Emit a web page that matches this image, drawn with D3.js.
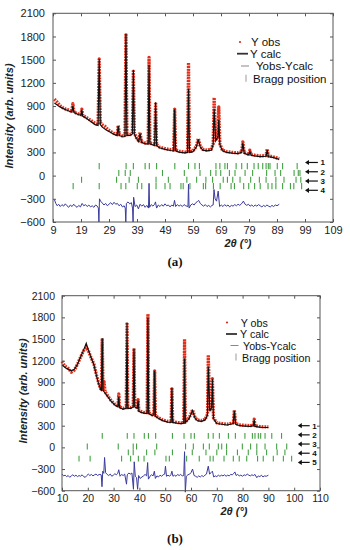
<!DOCTYPE html>
<html>
<head>
<meta charset="utf-8">
<script src="https://cdn.jsdelivr.net/npm/d3@7/dist/d3.min.js"></script>
<style>
  body { margin: 0; background: #fff; }
  svg { display: block; }
</style>
</head>
<body>
<div id="chart"></div>
<script>
const width = 350;
const height = 550;

const yTicks = [-600, -300, 0, 300, 600, 900, 1200, 1500, 1800, 2100];
const xTicksA = [9, 19, 29, 39, 49, 59, 69, 79, 89, 99, 109];
const xTicksB = [10, 20, 30, 40, 50, 60, 70, 80, 90, 100, 110];
const legendLabels = ["Y obs", "Y calc", "Yobs-Ycalc", "Bragg position"];

// ---- panel (a) ----
const calcA = [[9.5,940],[11,900],[12.5,870],[14,845],[15.7,820],[16.1,900],[16.5,815],[18,790],[19,780],[19.3,850],[19.6,770],
  [21,740],[22.5,700],[24,660],[25.1,650],[25.5,1510],[25.9,660],[26.5,630],[28,590],[29.5,560],[31,530],[31.9,520],[32.3,640],
  [32.7,520],[34,500],[34.7,510],[35.05,1840],[35.4,520],[36.5,520],[37.35,540],[37.7,1370],[38.05,540],[38.8,480],[39.6,440],
  [40.1,540],[40.6,430],[42,410],[43,410],[43.3,1430],[43.6,410],[45.3,390],[45.65,950],[46,390],[47,360],[49,340],[51,325],
  [52.1,320],[52.45,860],[52.8,320],[54,305],[56,295],[57.05,300],[57.4,1125],[57.75,300],[59,310],[60.2,370],[60.9,470],
  [61.6,370],[62.5,330],[64,320],[65.5,330],[66.2,400],[66.55,865],[67.1,450],[67.9,500],[68.2,720],[68.6,400],[69.5,320],
  [71,300],[73,290],[75,285],[76.4,300],[76.8,425],[77.3,290],[79,265],[79.3,320],[79.7,265],[81,255],[83,245],[85.1,250],
  [85.5,335],[85.9,245],[87.5,235],[89.8,210]];
const obsA = [[9.5,990],[10.5,950],[11.5,905],[12.5,880],[13.5,860],[14.5,850],[15.7,830],[16.1,930],[16.5,820],[18,800],[19,790],
  [19.3,860],[19.6,780],[21,750],[22.5,715],[24,680],[25.1,660],[25.5,1510],[25.9,690],[26.5,660],[27.5,640],[28.5,600],
  [29.5,575],[31,540],[31.9,530],[32.3,650],[32.7,530],[34,510],[34.7,520],[35.05,1840],[35.4,530],[36.5,530],[37.35,550],
  [37.7,1370],[38.05,550],[38.8,490],[39.6,450],[40.1,560],[40.6,440],[42,420],[43,420],[43.3,1530],[43.6,420],[45.3,400],
  [45.65,950],[46,400],[47,370],[49,350],[51,335],[52.1,330],[52.45,860],[52.8,330],[54,315],[56,305],[57.05,310],[57.4,1460],
  [57.75,310],[59,320],[60.2,380],[60.9,480],[61.6,380],[62.5,340],[64,330],[65.5,340],[66.2,410],[66.55,1010],[67.1,460],
  [67.9,510],[68.2,890],[68.6,410],[69.5,330],[71,310],[73,300],[75,295],[76.4,310],[76.8,435],[77.3,300],[79,275],[79.3,330],
  [79.7,275],[81,265],[83,255],[85.1,260],[85.5,345],[85.9,255],[87.5,245],[89.8,220]];
const diffA = [[9.5,-310],[10,-360],[10.5,-390],[11,-370],[11.6,-400],[12.2,-375],[12.8,-395],[13.4,-365],[14,-390],[14.6,-410],
  [15.2,-380],[15.8,-400],[16.4,-370],[17,-395],[17.6,-410],[18.2,-385],[18.8,-405],[19.4,-360],[20,-390],[20.6,-375],[21.2,-400],
  [21.8,-380],[22.4,-405],[23,-390],[23.6,-410],[24.2,-380],[24.8,-395],[25.2,-420],[25.4,-600],[25.6,-300],[26,-330],[26.6,-355],
  [27.2,-380],[27.8,-360],[28.4,-390],[29,-370],[29.6,-350],[30.2,-375],[30.8,-345],[31.4,-370],[32,-360],[32.6,-390],[33.2,-370],
  [33.8,-405],[34.4,-390],[34.8,-420],[35,-600],[35.2,-360],[35.8,-340],[36.4,-365],[37,-350],[37.4,-420],[37.6,-600],[37.8,-280],
  [38.3,-400],[38.9,-380],[39.5,-430],[40.1,-370],[40.7,-395],[41.3,-375],[41.9,-410],[42.5,-385],[43.1,-420],[43.3,-100],
  [43.5,-410],[44.1,-375],[44.7,-395],[45.3,-370],[45.6,-340],[46,-420],[46.6,-380],[47.2,-400],[47.8,-375],[48.4,-395],[49,-365],
  [49.6,-390],[50.2,-380],[50.8,-405],[51.4,-380],[52,-395],[52.4,-320],[52.8,-400],[53.4,-375],[54,-395],[54.6,-380],[55.2,-400],
  [55.8,-375],[56.4,-390],[57.2,-400],[57.4,-110],[57.6,-420],[58.2,-380],[58.8,-365],[59.4,-380],[60,-350],[60.6,-335],[61,-320],
  [61.6,-360],[62.2,-380],[62.8,-395],[63.4,-375],[64,-400],[64.6,-385],[65.2,-405],[65.8,-385],[66.2,-380],[66.5,-180],[66.9,-300],
  [67.4,-330],[68,-200],[68.5,-400],[69.1,-380],[69.7,-400],[70.3,-375],[70.9,-395],[71.5,-380],[72.1,-405],[72.7,-385],[73.3,-395],
  [73.9,-375],[74.5,-390],[75.1,-370],[75.7,-385],[76.3,-365],[77,-330],[77.6,-370],[78.2,-385],[78.8,-370],[79.4,-395],[80,-380],
  [80.6,-400],[81.2,-380],[81.8,-395],[82.4,-375],[83,-390],[83.6,-405],[84.2,-385],[84.8,-400],[85.4,-380],[86,-395],[86.6,-405],
  [87.2,-385],[87.8,-400],[88.4,-380],[89,-390],[89.8,-370]];
const braggRowsA = [124, 34, -53, -135];
const braggA = [
  [25.5,35.1,37.7,41.9,43.4,46.0,52.5,57.4,59.7,61.3,67.2,68.6,70.4,71.3,74.4,76.4,78.4,80.8,82.3,83.9,85.1,85.9,86.5,89.1,91.0,96.2],
  [32.5,34.8,36.6,48.1,55.9,61.5,65.3,67.2,68.9,72.0,74.0,77.6,80.3,85.3,88.3,90.3,95.1,96.6,97.2],
  [19.2,31.7,36.2,39.5,45.8,50.2,56.8,60.3,63.6,66.0,69.8,71.3,73.2,75.8,79.6,82.7,85.1,88.6,91.5,95.8,97.5],
  [16.2,25.5,33.3,35.0,39.1,40.7,45.8,49.0,50.8,54.7,55.5,57.9,62.7,63.5,66.3,68.7,72.6,73.8,77.1,78.9,81.0,83.0,85.8,87.2,88.6,91.0,93.8,95.0,97.8]
];
const arrowRowsA = [170, 50, -70, -190];
const arrowLabelsA = ["1", "2", "3", "4"];

// ---- panel (b) ----
const calcB = [[10,1140],[11.5,1100],[12.5,1080],[13.6,1060],[14.8,1080],[16,1150],[17.2,1250],[18.4,1350],[19.4,1440],[20.2,1350],
  [21.2,1250],[22.4,1140],[23.3,1000],[24.2,880],[25,800],[25.3,790],[25.6,1510],[25.9,790],[26.5,760],[27.8,700],[29,640],
  [30.4,590],[31.7,560],[32,700],[32.3,550],[33.6,530],[34.9,540],[35.2,1730],[35.5,540],[36.6,540],[37.6,560],[37.9,1370],
  [38.2,560],[39.2,540],[39.5,650],[39.8,500],[41,480],[42.2,470],[43,470],[43.3,1790],[43.6,470],[45,440],[45.6,450],[45.9,1060],
  [46.2,430],[47.5,400],[49,370],[51,350],[52.3,345],[52.6,830],[52.9,345],[54.5,335],[56,330],[57.2,335],[57.5,1230],[57.8,340],
  [59.3,400],[60.6,510],[61.6,400],[62.5,370],[64,360],[65.5,380],[66.4,450],[66.7,1120],[67.3,500],[68,550],[68.3,950],[68.7,400],
  [70,330],[72,320],[74,310],[76.4,330],[76.8,505],[77.3,320],[79,300],[81,295],[83,290],[84.2,300],[84.5,380],[84.8,290],
  [86.5,280],[88,275],[90,275]];
const obsB = [[10,1190],[11,1130],[12.5,1090],[13.6,1040],[14.8,1070],[16,1150],[17.2,1250],[18.4,1340],[19.4,1380],[20.2,1340],
  [21.2,1250],[22.4,1150],[23.3,1010],[24.2,890],[25,810],[25.3,800],[25.6,1510],[25.9,800],[26.3,910],[26.7,770],[27.8,710],
  [29,650],[30.4,600],[31.7,570],[32,740],[32.3,560],[33.6,540],[34.9,550],[35.2,1730],[35.5,550],[36.6,550],[37.6,570],[37.9,1370],
  [38.2,570],[39.2,550],[39.5,660],[39.8,510],[41,490],[42.2,480],[43,480],[43.3,1846],[43.6,480],[45,450],[45.6,460],[45.9,1060],
  [46.2,440],[47.5,410],[49,380],[51,360],[52.3,355],[52.6,830],[52.9,355],[54.5,345],[56,340],[57.2,345],[57.5,1500],[57.8,350],
  [59.3,410],[60.6,520],[61.6,410],[62.5,380],[64,370],[65.5,390],[66.4,460],[66.7,1280],[67.3,510],[68,560],[68.3,950],[68.7,410],
  [70,340],[72,330],[74,320],[76.4,340],[76.8,515],[77.3,330],[79,310],[81,305],[83,300],[84.2,310],[84.5,390],[84.8,300],
  [86.5,290],[88,285],[90,285]];
const diffB = [[10,-370],[10.6,-395],[11.2,-385],[11.8,-405],[12.4,-390],[13,-415],[13.6,-395],[14.2,-380],[14.8,-400],[15.4,-385],
  [16,-405],[16.6,-390],[17.2,-400],[17.8,-380],[18.4,-405],[19,-415],[19.6,-390],[20.2,-370],[20.8,-390],[21.4,-375],[22,-395],
  [22.6,-380],[23.2,-370],[23.8,-390],[24.4,-375],[25.2,-380],[25.5,-545],[25.8,-330],[26.2,-360],[26.5,-140],[26.9,-350],
  [27.5,-375],[28.1,-390],[28.7,-370],[29.3,-400],[29.9,-385],[30.5,-365],[31.1,-380],[31.6,-360],[32,-310],[32.5,-400],[33.1,-375],
  [33.7,-390],[34.3,-370],[35,-510],[35.3,-380],[35.9,-355],[36.5,-370],[37.1,-355],[37.7,-580],[38,-200],[38.4,-400],[38.9,-420],
  [39.3,-580],[39.7,-390],[40.3,-430],[41,-410],[41.6,-395],[42.2,-375],[42.8,-395],[43.2,-210],[43.5,-440],[44.1,-400],[44.7,-380],
  [45.3,-395],[45.8,-330],[46.2,-430],[46.8,-395],[47.4,-410],[48,-385],[48.6,-400],[49.2,-380],[49.8,-370],[50.1,-260],[50.5,-400],
  [51.1,-385],[51.7,-400],[52.2,-380],[52.6,-330],[53,-400],[53.6,-385],[54.2,-400],[54.8,-375],[55.4,-390],[56,-375],[56.6,-395],
  [57.2,-390],[57.5,-60],[57.8,-620],[58.2,-400],[58.8,-380],[59.5,-370],[60,-350],[60.6,-300],[61.2,-390],[61.8,-400],[62.4,-415],
  [63,-395],[63.6,-410],[64.2,-390],[64.8,-405],[65.4,-385],[66,-370],[66.7,-260],[67.2,-370],[67.8,-350],[68.3,-330],[68.8,-410],
  [69.4,-395],[70,-405],[70.6,-385],[71.2,-400],[71.8,-385],[72.4,-395],[73,-380],[73.6,-400],[74.2,-385],[74.8,-395],[75.4,-375],
  [76,-380],[76.6,-360],[77,-340],[77.5,-390],[78.1,-375],[78.7,-395],[79.3,-385],[80,-400],[80.6,-380],[81.2,-390],[81.8,-370],
  [82.4,-385],[83,-395],[83.6,-380],[84.2,-390],[84.8,-375],[85.5,-420],[86.1,-395],[86.7,-405],[87.3,-385],[87.9,-410],[88.5,-395],
  [89.2,-400],[90,-385]];
const braggRowsB = [160, 12, -70, -156];
const braggB = [
  [25.6,35.3,37.9,41.9,43.5,46.3,52.8,57.3,60.0,61.3,66.7,68.6,71.0,74.5,77.2,80.9,83.8,84.8,86.1,87.0,88.7,91.3,95.1],
  [19.8,31.8,37.6,38.9,46.7,57.9,60.9,64.8,67.1,70.6,71.9,73.8,79.9,83.1,85.5,88.7,93.2,97.1],
  [35.7,37.6,42.8,46.0,52.8,60.5,65.8,70.0,73.8,78.0,82.2,85.5,89.3,93.4,96.4],
  [16.6,20.9,33.1,36.6,39.6,41.8,50.3,51.6,58.3,63.2,67.4,68.6,72.8,76.4,78.7,81.6,85.8,88.0,91.9,95.8,99.0]
];
const arrowRowsB = [300, 173, 46, -81, -208];
const arrowLabelsB = ["1", "2", "3", "4", "5"];

const svg = d3.select('#chart').append('svg')
    .attr('width', width)
    .attr('height', height);

const font = "'Liberation Sans', Arial, sans-serif";

function drawPanel(p) {
    const x = d3.scaleLinear().domain(p.xDomain).range([p.left, p.right]);
    const y = d3.scaleLinear().domain([-600, 2100]).range([p.bottom, p.top]);
    const line = d3.line().x(d => x(d[0])).y(d => y(d[1]));
    const g = svg.append('g');

    // observed points (red dotted band)
    g.append('path')
        .datum(p.obs)
        .attr('d', line)
        .attr('fill', 'none')
        .attr('stroke', '#e0301c')
        .attr('stroke-width', 3.3)
        .attr('stroke-dasharray', '1.8,1')
        .attr('stroke-linejoin', 'round');

    // calculated
    g.append('path')
        .datum(p.calc)
        .attr('d', line)
        .attr('fill', 'none')
        .attr('stroke', '#111')
        .attr('stroke-width', 1.2);

    // difference
    g.append('path')
        .datum(p.diff)
        .attr('d', line)
        .attr('fill', 'none')
        .attr('stroke', '#3a3a9c')
        .attr('stroke-width', 1);

    // bragg positions
    p.bragg.forEach((row, i) => {
        g.selectAll(null)
            .data(row)
            .join('line')
            .attr('x1', d => x(d)).attr('x2', d => x(d))
            .attr('y1', y(p.braggRows[i] + 40)).attr('y2', y(p.braggRows[i] - 40))
            .attr('stroke', '#44a044')
            .attr('stroke-width', 1.1);
    });

    // arrows with phase numbers
    const ar = g.selectAll('g.arrow')
        .data(p.arrowRows)
        .join('g');
    ar.append('line')
        .attr('x1', x(p.arrowX[0]) + 2).attr('x2', x(p.arrowX[1]))
        .attr('y1', d => y(d)).attr('y2', d => y(d))
        .attr('stroke', '#111').attr('stroke-width', 1.2);
    ar.append('path')
        .attr('d', d => `M${x(p.arrowX[0])},${y(d)}l4,-2.6v5.2z`)
        .attr('fill', '#111');
    ar.append('text')
        .attr('x', x(p.arrowX[1]) + 2.5)
        .attr('y', d => y(d) + 3)
        .attr('font-family', font)
        .attr('font-weight', 'bold')
        .attr('font-size', 8)
        .attr('fill', '#111')
        .text((d, i) => p.arrowLabels[i]);

    // axes, ticks inward
    const left = g.append('g')
        .attr('transform', `translate(${p.left},0)`)
        .call(d3.axisLeft(y).tickValues(yTicks).tickSize(-3).tickPadding(p.yPad).tickFormat(d3.format('d')));
    const bottom = g.append('g')
        .attr('transform', `translate(0,${p.bottom})`)
        .call(d3.axisBottom(x).tickValues(p.xTicks).tickSize(-3).tickPadding(4).tickFormat(d3.format('d')));
    g.append('g')
        .attr('transform', `translate(${p.right},0)`)
        .call(d3.axisRight(y).tickValues(yTicks).tickSize(-3).tickFormat(''));
    g.append('g')
        .attr('transform', `translate(0,${p.top})`)
        .call(d3.axisTop(x).tickValues(p.xTicks).tickSize(-3).tickFormat(''));
    g.selectAll('.domain').remove();
    g.selectAll('.tick line').attr('stroke', '#555');
    [left, bottom].forEach(a => a.selectAll('text')
        .attr('font-family', font)
        .attr('font-size', p.tickFont)
        .attr('fill', '#222'));

    g.append('rect')
        .attr('x', p.left).attr('y', p.top)
        .attr('width', p.right - p.left).attr('height', p.bottom - p.top)
        .attr('fill', 'none')
        .attr('stroke', '#555')
        .attr('stroke-width', 1);

    // axis titles
    g.append('text')
        .attr('transform', `translate(${p.yLabel[0]},${p.yLabel[1]}) rotate(-90)`)
        .attr('text-anchor', 'middle')
        .attr('font-family', font)
        .attr('font-weight', 'bold')
        .attr('font-style', 'italic')
        .attr('font-size', 11)
        .attr('fill', '#222')
        .text('Intensity (arb. units)');
    g.append('text')
        .attr('x', p.xLabel[0]).attr('y', p.xLabel[1])
        .attr('text-anchor', 'middle')
        .attr('font-family', font)
        .attr('font-weight', 'bold')
        .attr('font-style', 'italic')
        .attr('font-size', 11)
        .attr('fill', '#222')
        .text('2θ (°)');
    g.append('text')
        .attr('x', 175).attr('y', p.caption[1])
        .attr('text-anchor', 'middle')
        .attr('font-family', "'Liberation Serif', 'Times New Roman', serif")
        .attr('font-weight', 'bold')
        .attr('font-size', 13)
        .attr('fill', '#111')
        .text(p.caption[0]);

    // legend
    const L = p.legend;
    const lg = g.append('g');
    lg.append('circle').attr('cx', L.mx[0]).attr('cy', L.rows[0] - 4).attr('r', 1.1).attr('fill', '#d0301c');
    lg.append('line').attr('x1', L.mx[1] - 6).attr('x2', L.mx[1] + 5)
        .attr('y1', L.rows[1] - 4).attr('y2', L.rows[1] - 4).attr('stroke', '#333').attr('stroke-width', 1.8);
    lg.append('line').attr('x1', L.mx[2] - 4).attr('x2', L.mx[2] + 4)
        .attr('y1', L.rows[2] - 4).attr('y2', L.rows[2] - 4).attr('stroke', '#888').attr('stroke-width', 1);
    lg.append('line').attr('x1', L.mx[3]).attr('x2', L.mx[3])
        .attr('y1', L.rows[3] - 8).attr('y2', L.rows[3] - 1).attr('stroke', '#aaa').attr('stroke-width', 1.2);
    lg.selectAll('text')
        .data(legendLabels)
        .join('text')
        .attr('x', (d, i) => L.tx[i])
        .attr('y', (d, i) => L.rows[i])
        .attr('font-family', font)
        .attr('font-size', L.size)
        .attr('fill', '#111')
        .text(d => d);
}

drawPanel({
    xDomain: [9, 109], xTicks: xTicksA,
    left: 53, right: 333, top: 13.3, bottom: 222,
    obs: obsA, calc: calcA, diff: diffA,
    bragg: braggA, braggRows: braggRowsA,
    arrowRows: arrowRowsA, arrowLabels: arrowLabelsA, arrowX: [99, 103.6],
    yPad: 8, tickFont: 11,
    yLabel: [13, 116], xLabel: [238, 247], caption: ['(a)', 266],
    legend: { mx: [240, 243, 245, 246], tx: [251, 250, 256, 253], rows: [46, 57.7, 70, 82.7], size: 11.5 }
});

drawPanel({
    xDomain: [10, 110], xTicks: xTicksB,
    left: 62, right: 320, top: 295.7, bottom: 490.7,
    obs: obsB, calc: calcB, diff: diffB,
    bragg: braggB, braggRows: braggRowsB,
    arrowRows: arrowRowsB, arrowLabels: arrowLabelsB, arrowX: [101.4, 106],
    yPad: 7, tickFont: 10.5,
    yLabel: [27, 391], xLabel: [234, 515], caption: ['(b)', 543],
    legend: { mx: [227, 232, 234.5, 236], tx: [240.7, 240, 243, 242], rows: [326.5, 338, 349.5, 361.5], size: 10.7 }
});
</script>
</body>
</html>
